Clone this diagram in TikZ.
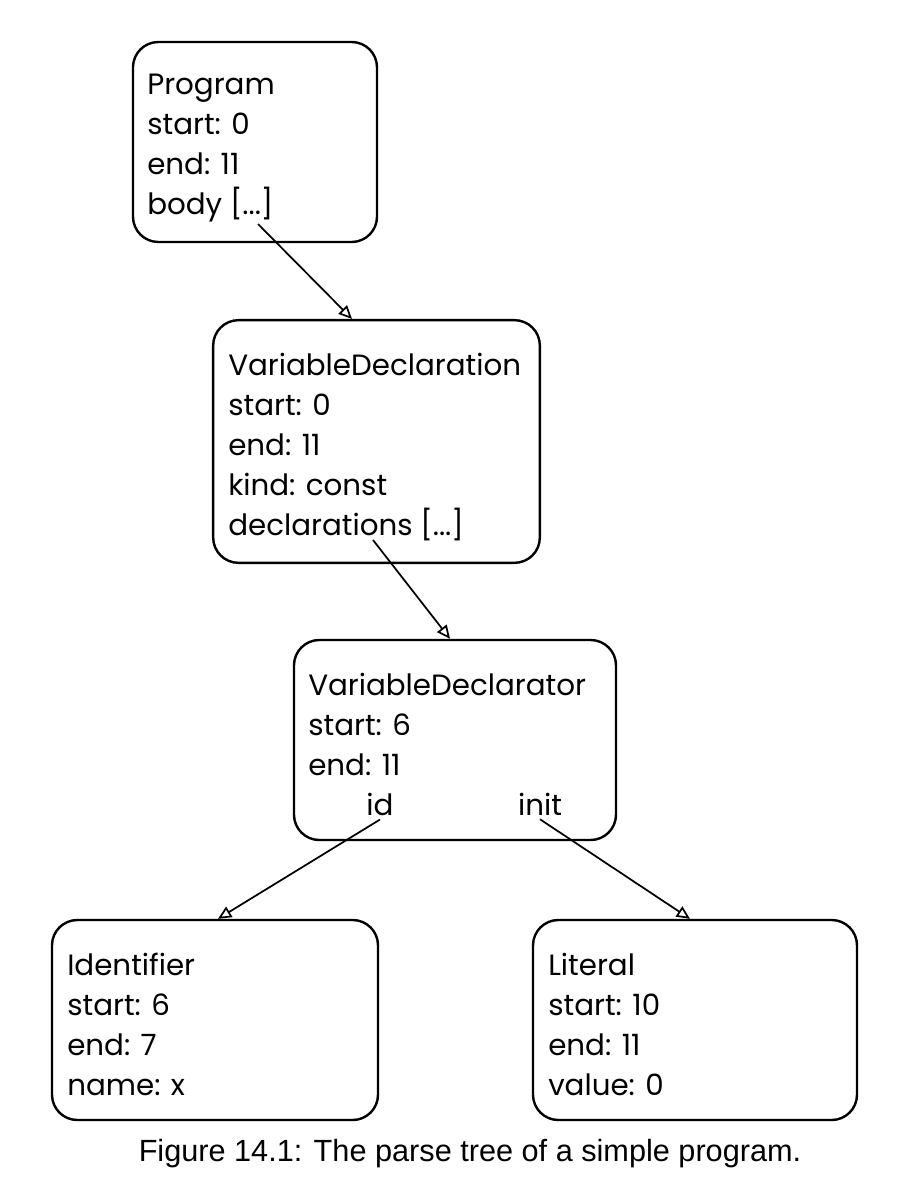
\documentclass[tikz,border=0pt]{standalone}
\usepackage{fontspec}
\setmainfont{Liberation Sans}
\newfontfamily\sketchfont{Poppins}
\usetikzlibrary{arrows.meta,positioning}

\tikzset{
  box/.style={draw, line width=1.8pt, rounded corners=19pt, inner sep=0pt},
  field/.style={anchor=base west, inner sep=0pt, font=\sketchfont\fontsize{22}{26}\selectfont},
  link/.style={line width=1.3pt, -{Triangle[open, length=10pt, width=9pt]}},
}

\begin{document}
\begin{tikzpicture}[x=0.75pt, y=-0.75pt]
   \fill[white] (0,0) rectangle (901,1187);
   \useasboundingbox (0,0) rectangle (901,1187);

   % boxes
   \node[box, minimum width=183pt, minimum height=150pt] (prog) at (255,142) {};
   \node[box, minimum width=245pt, minimum height=182pt] (decl) at (376.5,441.5) {};
   \node[box, minimum width=241.5pt, minimum height=150pt] (dtor) at (455,740) {};
   \node[box, minimum width=244.5pt, minimum height=150pt] (ident) at (215,1020) {};
   \node[box, minimum width=243pt, minimum height=150pt] (lit) at (695,1020) {};

   % fields
   \foreach \t [count=\i from 0] in {Program, start: 0, end: 11, body {[...]}}
     \node[field] (prog-\i) at (147,95+40*\i) {\t};
   \foreach \t [count=\i from 0] in {VariableDeclaration, start: 0, end: 11, kind: const, declarations {[...]}}
     \node[field] (decl-\i) at (228,375+40*\i) {\t};
   \foreach \t [count=\i from 0] in {VariableDeclarator, start: 6, end: 11}
     \node[field] (dtor-\i) at (308,695+40*\i) {\t};
   \node[field, anchor=base] (id) at (380,815) {id};
   \node[field, anchor=base] (init) at (540,815) {init};
   \foreach \t [count=\i from 0] in {Identifier, start: 6, end: 7, name: x}
     \node[field] (ident-\i) at (67,975+40*\i) {\t};
   \foreach \t [count=\i from 0] in {Literal, start: 10, end: 11, value: 0}
     \node[field] (lit-\i) at (548,975+40*\i) {\t};

   % links
   \coordinate (body) at (258,224);
   \coordinate (decls) at (373,540);
   \draw[link] (body) -- (decl.north -| 352,0);
   \draw[link] (decls) -- (dtor.north -| 450,0);
   \draw[link] (id.south) ++(0,4) -- (ident.north -| 218,0);
   \draw[link] (init.south) ++(0,4) -- (lit.north -| 690,0);

   \node[font=\fontsize{23}{27}\selectfont] (caption) at (470,1154) {Figure 14.1: The parse tree of a simple program.};
\end{tikzpicture}
\end{document}
